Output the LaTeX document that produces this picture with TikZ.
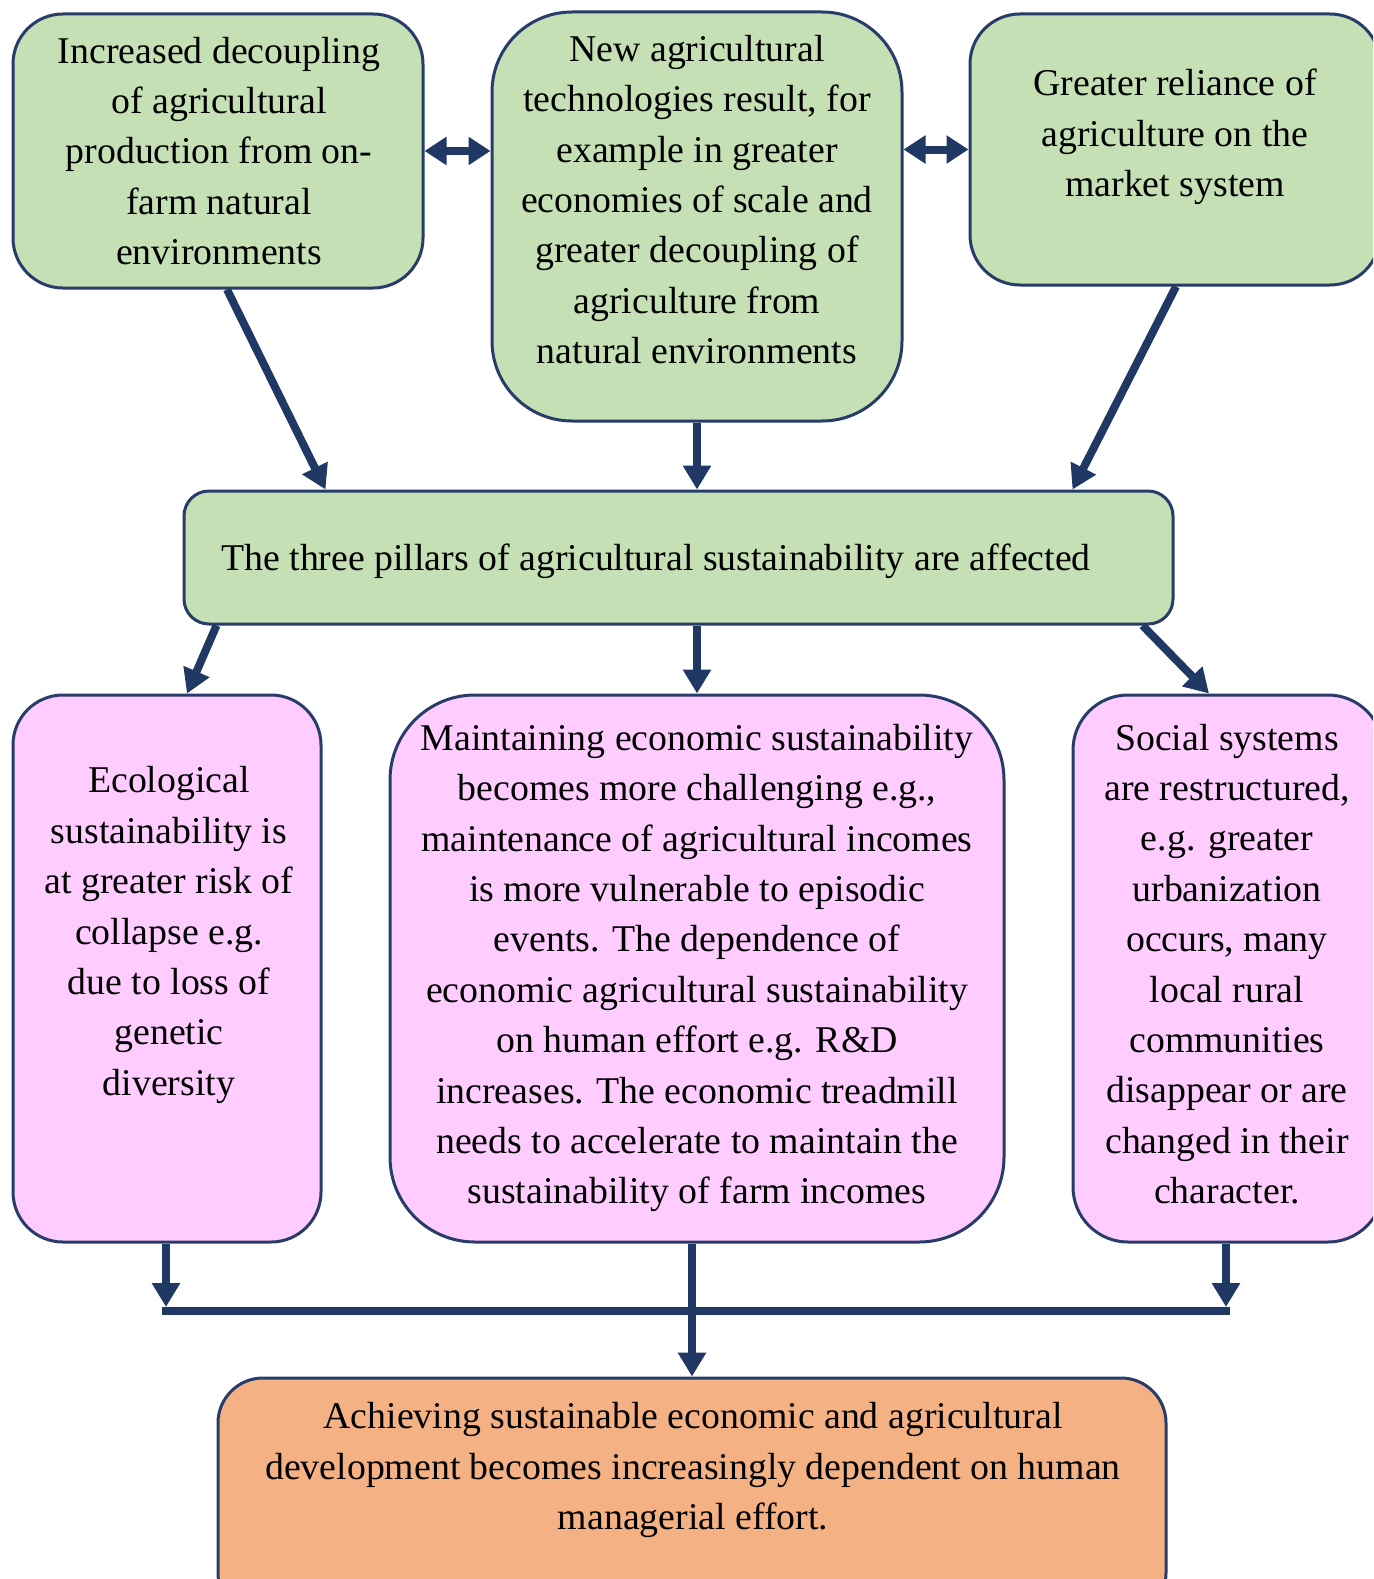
\documentclass[tikz,border=0pt]{standalone}
\usepackage{fontspec}
\setmainfont{Liberation Serif}
\usetikzlibrary{arrows.meta,calc}
\definecolor{navy}{RGB}{31,56,100}
\definecolor{bordc}{RGB}{40,60,105}
\definecolor{greenf}{RGB}{197,224,180}
\definecolor{pinkf}{RGB}{255,204,255}
\definecolor{orangef}{RGB}{244,177,131}
\tikzset{
  box/.style={draw=bordc,line width=3pt,minimum width=#1,inner sep=0pt},
  txt/.style={align=center,inner sep=0pt,font=\fontsize{37.8}{50.4}\selectfont},
  arr/.style={draw=navy,line width=8pt,-{Triangle[length=24pt,width=27pt]}},
  darr/.style={draw=navy,line width=8pt,{Triangle[length=22pt,width=27pt]}-{Triangle[length=22pt,width=27pt]}},
  plain/.style={draw=navy,line width=8pt}
}
\begin{document}
\begin{tikzpicture}[x=1pt,y=-1pt]
\clip (0,0) rectangle (1373,1579);
\fill[white] (0,0) rectangle (1373,1579);
% boxes
\node[box=410pt,minimum height=274pt,fill=greenf,rounded corners=50pt] (A) at (218,151) {};
\node[box=410pt,minimum height=409pt,fill=greenf,rounded corners=80pt] (B) at (697,216.5) {};
\node[box=410pt,minimum height=271pt,fill=greenf,rounded corners=50pt] (C) at (1175,149.5) {};
\node[box=989pt,minimum height=133pt,fill=greenf,rounded corners=25pt] (D) at (678.5,557.5) {};
\node[box=308pt,minimum height=547pt,fill=pinkf,rounded corners=50pt] (E) at (167,968.5) {};
\node[box=614pt,minimum height=547pt,fill=pinkf,rounded corners=85pt] (F) at (697,968.5) {};
\node[box=310pt,minimum height=547pt,fill=pinkf,rounded corners=55pt] (G) at (1228,968.5) {};
\node[box=948pt,minimum height=240pt,fill=orangef,rounded corners=45pt] (H) at (692,1498) {};
% texts
\node[txt] (tA) at (219,151) {Increased decoupling\\of agricultural\\production from on-\\farm natural\\environments};
\node[txt] (tB) at (697,199.5) {New agricultural\\technologies result, for\\example in greater\\economies of scale and\\greater decoupling of\\agriculture from\\natural environments};
\node[txt] (tC) at (1175,137) {Greater reliance of\\agriculture on the\\market system};
\node[txt] (tD) at (656,561) {The three pillars of agricultural sustainability are affected};
\node[txt] (tE) at (169,935) {Ecological\\sustainability is\\at greater risk of\\collapse e.g.\\due to loss of\\genetic\\diversity};
\node[txt] (tF) at (697,968) {Maintaining economic sustainability\\becomes more challenging e.g.,\\maintenance of agricultural incomes\\is more vulnerable to episodic\\events. The dependence of\\economic agricultural sustainability\\on human effort e.g. R\&D\\increases. The economic treadmill\\needs to accelerate to maintain the\\sustainability of farm incomes};
\node[txt] (tG) at (1227,964) {Social systems\\are restructured,\\e.g. greater\\urbanization\\occurs, many\\local rural\\communities\\disappear or are\\changed in their\\character.};
\node[txt] (tH) at (693,1470) {Achieving sustainable economic and agricultural\\development becomes increasingly dependent on human\\managerial effort.};
% connectors
\draw[darr] (A.east) -- (A.east -| B.west);
\draw[darr] (C.west -| B.east) -- (C.west);
\draw[arr] ([xshift=9pt]A.south) -- ([xshift=143pt]D.north west);
\draw[arr] (B.south) -- (B.south |- D.north);
\draw[arr] ([xshift=1pt]C.south) -- ([xshift=-102pt]D.north east);
\draw[arr] ([xshift=34pt]D.south west) -- ([xshift=20pt]E.north);
\draw[arr] (F.north |- D.south) -- (F.north);
\draw[arr] ([xshift=-32pt]D.south east) -- ([xshift=-19pt]G.north);
\coordinate (jL) at (166,1311);
\coordinate (jR) at (1226,1311);
\draw[arr] (jL |- E.south) -- ([yshift=4pt]jL);
\draw[arr] (jR |- G.south) -- ([yshift=4pt]jR);
\draw[plain] ([xshift=-4pt]jL) -- ([xshift=4pt]jR);
\draw[arr] (H.north |- F.south) -- (H.north);
\end{tikzpicture}
\end{document}
